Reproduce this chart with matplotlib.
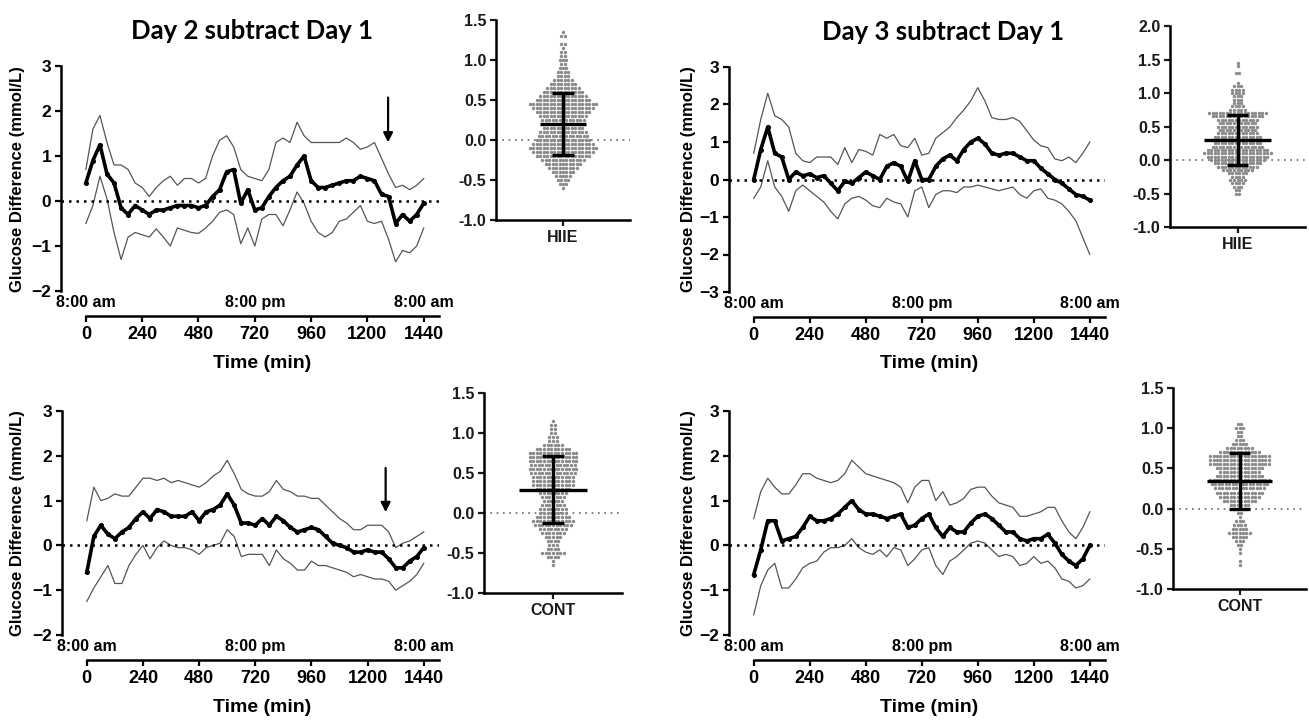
import matplotlib
matplotlib.use("Agg")
import matplotlib.pyplot as plt
import matplotlib.transforms as mtransforms
import numpy as np

plt.rcParams["font.family"] = ["Liberation Sans", "DejaVu Sans"]
plt.rcParams["font.weight"] = "bold"

# time grid (min after 8:00 am), values read every 30 min
time_min = np.arange(0, 1441, 30)

# Day 2 - Day 1, HIIE: mean and mean +/- SD
d2_hiie_mean = [0.4, 0.9, 1.25, 0.6, 0.4, -0.15, -0.3, -0.1, -0.2, -0.3, -0.2, -0.2, -0.15, -0.1, -0.1,
                -0.1, -0.15, -0.1, 0.1, 0.25, 0.65, 0.7, -0.05, 0.25, -0.2, -0.15, 0.1, 0.3, 0.45, 0.55,
                0.8, 1.0, 0.45, 0.3, 0.3, 0.35, 0.4, 0.45, 0.45, 0.55, 0.5, 0.45, 0.15, 0.1, -0.5, -0.3,
                -0.45, -0.3, -0.05]
d2_hiie_upper = [0.7, 1.6, 1.9, 1.3, 0.8, 0.8, 0.7, 0.4, 0.3, 0.1, 0.3, 0.45, 0.55, 0.35, 0.5, 0.5, 0.4,
                 0.5, 1.0, 1.35, 1.45, 1.2, 0.7, 0.55, 0.5, 0.45, 0.7, 1.3, 1.4, 1.3, 1.75, 1.45, 1.3, 1.3,
                 1.3, 1.3, 1.3, 1.4, 1.3, 1.15, 1.2, 1.3, 0.95, 0.6, 0.3, 0.35, 0.25, 0.35, 0.5]
d2_hiie_lower = [-0.5, -0.1, 0.55, 0.05, -0.7, -1.3, -0.8, -0.7, -0.75, -0.8, -0.62, -0.8, -1.0, -0.6,
                 -0.65, -0.7, -0.72, -0.6, -0.45, -0.25, -0.2, -0.3, -0.95, -0.6, -1.0, -0.4, -0.3, -0.3,
                 -0.55, -0.2, 0.2, -0.05, -0.45, -0.7, -0.8, -0.7, -0.45, -0.4, -0.25, -0.1, -0.45, -0.5,
                 -0.45, -0.85, -1.35, -1.1, -1.15, -1.0, -0.6]

# Day 2 - Day 1, CONT
d2_cont_mean = [-0.6, 0.2, 0.45, 0.25, 0.15, 0.3, 0.4, 0.6, 0.75, 0.6, 0.8, 0.75, 0.65, 0.65, 0.65, 0.75,
                0.55, 0.75, 0.8, 0.9, 1.15, 0.9, 0.5, 0.5, 0.45, 0.6, 0.45, 0.65, 0.55, 0.4, 0.3, 0.35,
                0.4, 0.35, 0.2, 0.05, 0.0, -0.05, -0.15, -0.15, -0.1, -0.15, -0.15, -0.3, -0.5, -0.5,
                -0.35, -0.25, -0.05]
d2_cont_upper = [0.55, 1.3, 1.0, 1.05, 1.15, 1.1, 1.1, 1.3, 1.5, 1.5, 1.45, 1.5, 1.4, 1.45, 1.4, 1.35,
                 1.3, 1.4, 1.55, 1.65, 1.9, 1.6, 1.25, 1.15, 1.1, 1.1, 1.2, 1.45, 1.25, 1.2, 1.1, 1.1,
                 1.05, 1.05, 0.9, 0.75, 0.6, 0.5, 0.35, 0.35, 0.45, 0.45, 0.45, 0.3, -0.05, 0.05, 0.1,
                 0.2, 0.3]
d2_cont_lower = [-1.25, -0.95, -0.7, -0.45, -0.85, -0.85, -0.45, -0.2, 0.0, -0.3, -0.05, 0.1, 0.0, -0.05,
                 -0.05, -0.1, -0.2, -0.05, 0.0, 0.05, 0.35, 0.2, -0.25, -0.2, -0.2, -0.2, -0.45, -0.1,
                 -0.3, -0.4, -0.55, -0.55, -0.35, -0.45, -0.45, -0.5, -0.55, -0.6, -0.7, -0.65, -0.7,
                 -0.75, -0.75, -0.8, -1.0, -0.9, -0.8, -0.65, -0.4]

# Day 3 - Day 1, HIIE
d3_hiie_mean = [0.0, 0.8, 1.4, 0.7, 0.6, 0.0, 0.2, 0.1, 0.15, 0.05, 0.1, -0.1, -0.3, -0.05, -0.1, 0.05,
                0.2, 0.1, 0.0, 0.35, 0.45, 0.35, -0.05, 0.5, 0.0, 0.0, 0.35, 0.55, 0.65, 0.5, 0.8, 1.0,
                1.1, 0.95, 0.7, 0.65, 0.7, 0.7, 0.6, 0.5, 0.5, 0.3, 0.15, 0.0, -0.1, -0.25, -0.4, -0.45,
                -0.55]
d3_hiie_upper = [0.7, 1.6, 2.3, 1.7, 1.6, 1.4, 0.7, 0.5, 0.45, 0.6, 0.6, 0.6, 0.4, 0.85, 0.45, 0.8, 0.75,
                 0.65, 1.2, 1.1, 1.2, 0.9, 0.85, 1.1, 0.65, 0.7, 1.1, 1.25, 1.4, 1.65, 1.85, 2.1, 2.45,
                 2.1, 1.65, 1.6, 1.6, 1.65, 1.55, 1.3, 1.05, 0.9, 0.85, 0.55, 0.5, 0.6, 0.45, 0.7, 1.0]
d3_hiie_lower = [-0.5, -0.2, 0.5, -0.2, -0.45, -0.85, -0.3, -0.15, -0.3, -0.45, -0.6, -0.85, -1.05,
                 -0.65, -0.5, -0.45, -0.55, -0.7, -0.75, -0.5, -0.6, -0.65, -1.0, -0.3, -0.2, -0.75,
                 -0.4, -0.3, -0.3, -0.35, -0.2, -0.2, -0.15, -0.2, -0.25, -0.3, -0.25, -0.2, -0.4, -0.5,
                 -0.3, -0.25, -0.5, -0.55, -0.65, -0.85, -1.1, -1.55, -2.0]

# Day 3 - Day 1, CONT
d3_cont_mean = [-0.65, -0.1, 0.55, 0.55, 0.1, 0.15, 0.2, 0.4, 0.65, 0.55, 0.55, 0.6, 0.7, 0.85, 1.0, 0.8,
                0.7, 0.7, 0.65, 0.6, 0.65, 0.7, 0.4, 0.45, 0.6, 0.7, 0.4, 0.2, 0.4, 0.3, 0.3, 0.5, 0.65,
                0.7, 0.6, 0.45, 0.3, 0.3, 0.15, 0.1, 0.15, 0.15, 0.25, 0.05, -0.2, -0.35, -0.45, -0.3, 0.0]
d3_cont_upper = [0.6, 1.2, 1.5, 1.3, 1.15, 1.15, 1.35, 1.6, 1.6, 1.5, 1.45, 1.4, 1.45, 1.6, 1.9, 1.75,
                 1.6, 1.55, 1.5, 1.45, 1.4, 1.3, 0.95, 1.3, 1.45, 1.45, 1.0, 1.2, 0.9, 0.95, 1.05, 1.25,
                 1.3, 1.3, 1.1, 0.95, 0.9, 0.85, 0.65, 0.65, 0.7, 0.75, 0.85, 0.85, 0.55, 0.3, 0.15, 0.4,
                 0.75]
d3_cont_lower = [-1.55, -0.9, -0.55, -0.4, -0.95, -0.95, -0.75, -0.5, -0.4, -0.35, -0.15, -0.05, -0.05,
                 0.0, 0.15, -0.05, -0.15, -0.2, -0.1, -0.25, -0.05, -0.1, -0.45, -0.3, -0.1, -0.05,
                 -0.45, -0.65, -0.35, -0.25, -0.1, 0.05, 0.1, 0.05, -0.1, -0.25, -0.2, -0.25, -0.45,
                 -0.4, -0.25, -0.4, -0.35, -0.5, -0.75, -0.8, -0.95, -0.9, -0.75]

# scatter panels: value levels and number of dots at each level
d2_hiie_levels = [1.35, 1.3, 1.2, 1.15, 1.1, 1.05, 1.0, 0.95, 0.9, 0.85, 0.8, 0.75, 0.7, 0.65, 0.6, 0.55,
                  0.5, 0.45, 0.4, 0.35, 0.3, 0.25, 0.2, 0.15, 0.1, 0.05, 0.0, -0.05, -0.1, -0.15, -0.2,
                  -0.25, -0.3, -0.35, -0.4, -0.45, -0.5, -0.55, -0.6]
d2_hiie_counts = [1, 2, 2, 1, 2, 2, 3, 2, 3, 4, 4, 6, 8, 10, 12, 14, 16, 20, 18, 16, 14, 13, 13, 12, 14,
                  15, 16, 18, 20, 18, 16, 13, 11, 9, 7, 5, 4, 3, 1]
d2_cont_levels = [1.15, 1.1, 1.05, 1.0, 0.95, 0.9, 0.85, 0.8, 0.75, 0.7, 0.65, 0.6, 0.55, 0.5, 0.45, 0.4,
                  0.35, 0.3, 0.25, 0.2, 0.15, 0.1, 0.05, 0.0, -0.05, -0.1, -0.15, -0.2, -0.25, -0.3,
                  -0.35, -0.4, -0.45, -0.5, -0.55, -0.6, -0.65]
d2_cont_counts = [1, 2, 2, 2, 3, 3, 6, 10, 14, 14, 14, 13, 14, 13, 12, 12, 12, 10, 8, 7, 6, 7, 8, 8, 10,
                  12, 11, 8, 7, 5, 4, 3, 4, 7, 4, 1, 1]
d3_hiie_levels = [1.45, 1.4, 1.3, 1.15, 1.1, 1.05, 1.0, 0.95, 0.9, 0.85, 0.8, 0.75, 0.7, 0.65, 0.6, 0.55,
                  0.5, 0.45, 0.4, 0.35, 0.3, 0.25, 0.2, 0.15, 0.1, 0.05, 0.0, -0.05, -0.1, -0.15, -0.2,
                  -0.25, -0.3, -0.35, -0.4, -0.45, -0.5]
d3_hiie_counts = [1, 1, 2, 1, 3, 4, 4, 3, 3, 3, 4, 5, 17, 15, 12, 11, 12, 11, 12, 14, 14, 14, 15, 18, 20,
                  18, 16, 14, 12, 9, 6, 4, 5, 4, 3, 2, 2]
d3_cont_levels = [1.05, 1.0, 0.95, 0.9, 0.85, 0.8, 0.75, 0.7, 0.65, 0.6, 0.55, 0.5, 0.45, 0.4, 0.35, 0.3,
                  0.25, 0.2, 0.15, 0.1, 0.05, 0.0, -0.05, -0.1, -0.15, -0.2, -0.25, -0.3, -0.35, -0.4,
                  -0.45, -0.5, -0.55, -0.65, -0.7]
d3_cont_counts = [2, 3, 2, 2, 3, 5, 8, 12, 18, 18, 18, 14, 12, 14, 18, 17, 15, 14, 12, 10, 6, 4, 2, 1, 3,
                  4, 5, 7, 5, 3, 2, 1, 1, 1, 1]

x_ticks = [0, 240, 480, 720, 960, 1200, 1440]
clock_labels = ["8:00 am", "8:00 pm", "8:00 am"]
clock_pos = [0, 720, 1440]

W, H = 1309, 721
fig = plt.figure(figsize=(W / 100, H / 100), dpi=100)


def rect(l, t, r, b):
    return [l / W, 1 - b / H, (r - l) / W, (b - t) / H]


def line_panel(box, mean, upper, lower, ylim, arrow=None):
    ax = fig.add_axes(rect(*box))
    ax.plot(time_min, upper, color="#555555", lw=0.9)
    ax.plot(time_min, lower, color="#555555", lw=0.9)
    ax.axhline(0, color="black", lw=1.8, ls=(0, (1, 2)))
    ax.plot(time_min, mean, color="black", lw=2.6, marker="o", ms=2.6)
    ax.set_xlim(-106, 1505)
    ax.set_ylim(ylim)
    ax.set_yticks(range(ylim[0], ylim[1] + 1))
    ax.set_xticks(x_ticks)
    for s in ["top", "right"]:
        ax.spines[s].set_visible(False)
    ax.spines["left"].set_linewidth(1.8)
    ax.spines["bottom"].set_linewidth(1.8)
    ax.spines["bottom"].set_position(("outward", 18))
    ax.spines["bottom"].set_bounds(0, 1505)
    ax.tick_params(width=1.6, length=4, labelsize=13, pad=3)
    ax.tick_params(axis="y", labelsize=12.5)
    trans = mtransforms.blended_transform_factory(ax.transData, ax.transAxes)
    for p, lab in zip(clock_pos, clock_labels):
        ax.text(p, -0.05, lab, transform=trans, ha="center", va="center", fontsize=11.5,
                fontweight="bold", clip_on=False)
    if arrow is not None:
        t, y0, y1 = arrow
        ax.annotate("", xy=(t, y1), xytext=(t, y0),
                    arrowprops=dict(arrowstyle="-|>", color="black", lw=1.6, mutation_scale=14))
    return ax


def swarm_panel(box, levels, counts, ylim, yticks, label, bar_hw):
    ax = fig.add_axes(rect(*box))
    vals = np.repeat(levels, counts)
    m, s = vals.mean(), vals.std(ddof=1)
    xs, ys = [], []
    for v, n in zip(levels, counts):
        xs.extend((np.arange(n) - (n - 1) / 2) * 0.052)
        ys.extend([v] * n)
    ax.axhline(0, color="#666666", lw=1.2, ls=(0, (1, 2.8)))
    ax.scatter(xs, ys, s=6, color="#8a8a8a", linewidths=0, zorder=2)
    ax.hlines(m, -bar_hw, bar_hw, color="black", lw=2.4, zorder=3)
    ax.vlines(0, m - s, m + s, color="black", lw=2.4, zorder=3)
    ax.hlines([m - s, m + s], -0.16, 0.16, color="black", lw=2.4, zorder=3)
    ax.set_xlim(-1, 1)
    ax.set_ylim(ylim)
    ax.set_yticks(yticks)
    ax.set_yticklabels([f"{v:.1f}" for v in yticks])
    ax.set_xticks([0])
    ax.set_xticklabels([label])
    for sp in ["top", "right"]:
        ax.spines[sp].set_visible(False)
    ax.spines["left"].set_linewidth(1.8)
    ax.spines["bottom"].set_linewidth(1.8)
    ax.tick_params(width=1.6, length=4, labelsize=11.5, pad=3, colors="#1a1a1a")
    return ax


line_panel((61, 66, 439, 291), d2_hiie_mean, d2_hiie_upper, d2_hiie_lower, (-2, 3),
           arrow=(1288, 2.36, 1.24))
line_panel((62, 411, 439, 635), d2_cont_mean, d2_cont_upper, d2_cont_lower, (-2, 3),
           arrow=(1277, 1.79, 0.68))
line_panel((729, 67, 1105, 292), d3_hiie_mean, d3_hiie_upper, d3_hiie_lower, (-3, 3))
line_panel((729, 411, 1105, 635), d3_cont_mean, d3_cont_upper, d3_cont_lower, (-2, 3))

swarm_panel((496, 20, 630, 220), d2_hiie_levels, d2_hiie_counts, (-1.0, 1.5),
            [-1.0, -0.5, 0.0, 0.5, 1.0, 1.5], "HIIE", 0.35)
swarm_panel((484, 393, 622, 593), d2_cont_levels, d2_cont_counts, (-1.0, 1.5),
            [-1.0, -0.5, 0.0, 0.5, 1.0, 1.5], "CONT", 0.49)
swarm_panel((1170, 26, 1305, 227), d3_hiie_levels, d3_hiie_counts, (-1.0, 2.0),
            [-1.0, -0.5, 0.0, 0.5, 1.0, 1.5, 2.0], "HIIE", 0.49)
swarm_panel((1173, 388, 1306, 589), d3_cont_levels, d3_cont_counts, (-1.0, 1.5),
            [-1.0, -0.5, 0.0, 0.5, 1.0, 1.5], "CONT", 0.49)

# titles and axis labels
fig.text(252 / W, 1 - 31 / H, "Day 2 subtract Day 1", ha="center", va="center",
         fontsize=18.5, fontweight="bold", family=["Lato", "DejaVu Sans"])
fig.text(943 / W, 1 - 32 / H, "Day 3 subtract Day 1", ha="center", va="center",
         fontsize=18.5, fontweight="bold", family=["Lato", "DejaVu Sans"])
for x, y in [(18, 179), (18, 523), (689, 179), (689, 523)]:
    fig.text(x / W, 1 - y / H, "Glucose Difference (mmol/L)", rotation=90, ha="center",
             va="center", fontsize=12, fontweight="bold")
for x, y in [(262, 363), (262, 708), (929, 363), (929, 708)]:
    fig.text(x / W, 1 - y / H, "Time (min)", ha="center", va="center", fontsize=14,
             fontweight="bold")

fig.savefig("out.png", dpi=100)
